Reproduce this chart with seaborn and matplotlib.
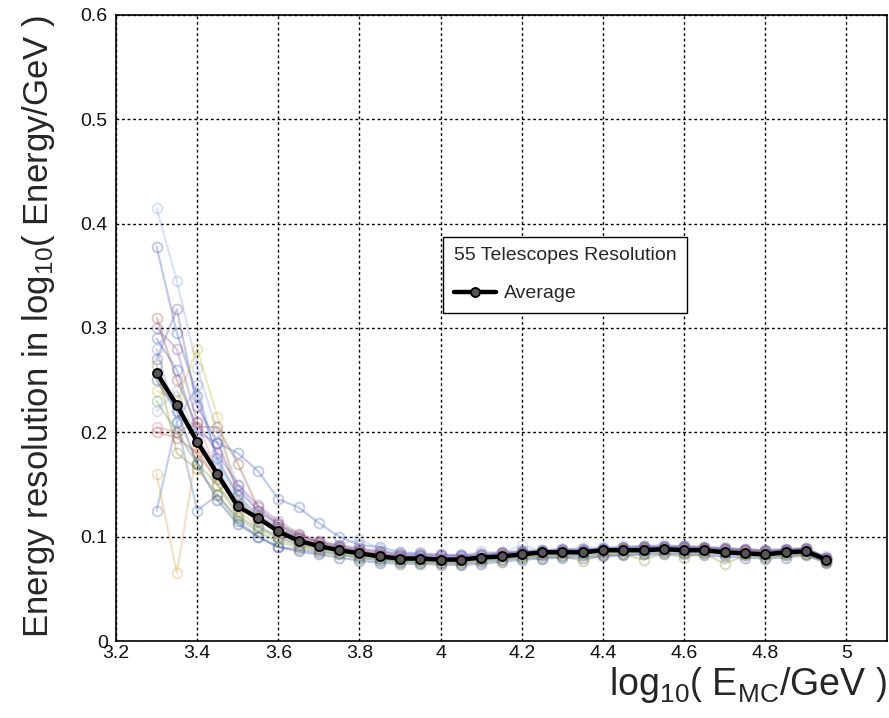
import matplotlib
matplotlib.use("Agg")
import matplotlib.pyplot as plt
import numpy as np
import pandas as pd
import seaborn as sns
from matplotlib.ticker import MultipleLocator, FuncFormatter

# ---------------- data ----------------
log_e = [3.30, 3.35, 3.40, 3.45, 3.50, 3.55, 3.60, 3.65, 3.70, 3.75, 3.80, 3.85,
         3.90, 3.95, 4.00, 4.05, 4.10, 4.15, 4.20, 4.25, 4.30, 4.35, 4.40, 4.45,
         4.50, 4.55, 4.60, 4.65, 4.70, 4.75, 4.80, 4.85, 4.90, 4.95]

average = [0.257, 0.226, 0.191, 0.160, 0.129, 0.118, 0.105, 0.096, 0.091, 0.087, 0.084, 0.081,
           0.079, 0.079, 0.078, 0.078, 0.080, 0.081, 0.083, 0.085, 0.085, 0.085, 0.087, 0.087,
           0.087, 0.088, 0.087, 0.087, 0.085, 0.084, 0.083, 0.085, 0.086, 0.078]

tel01 = [0.378, 0.295, 0.235, 0.175, 0.140, 0.120, 0.108, 0.098, 0.092, 0.088, 0.085, 0.083,
         0.080, 0.081, 0.079, 0.080, 0.080, 0.082, 0.084, 0.085, 0.085, 0.086, 0.087, 0.088,
         0.089, 0.090, 0.089, 0.088, 0.087, 0.086, 0.085, 0.086, 0.087, 0.079]
tel02 = [0.415, 0.345, 0.262, 0.200, 0.150, 0.125, 0.110, 0.100, 0.094, 0.090, 0.088, 0.086,
         0.084, 0.083, 0.082, 0.083, 0.084, 0.085, 0.086, 0.087, 0.088, 0.089, 0.090, 0.090,
         0.091, 0.092, 0.091, 0.090, 0.089, 0.088, 0.087, 0.088, 0.089, 0.081]
tel03 = [0.125, 0.210, 0.125, 0.140, 0.115, 0.100, 0.090, 0.088, 0.085, 0.083, 0.080, 0.077,
         0.076, 0.075, 0.075, 0.074, 0.076, 0.078, 0.080, 0.080, 0.081, 0.082, 0.082, 0.083,
         0.084, 0.085, 0.084, 0.084, 0.083, 0.082, 0.081, 0.082, 0.083, 0.076]
tel04 = [0.160, 0.065, 0.185, 0.150, 0.125, 0.110, 0.100, 0.092, 0.088, 0.085, 0.082, 0.080,
         0.078, 0.077, 0.077, 0.076, 0.078, 0.080, 0.081, 0.082, 0.083, 0.084, 0.084, 0.085,
         0.086, 0.086, 0.085, 0.085, 0.084, 0.083, 0.082, 0.083, 0.084, 0.077]
tel05 = [0.270, 0.318, 0.225, 0.190, 0.145, 0.125, 0.112, 0.100, 0.095, 0.091, 0.087, 0.085,
         0.082, 0.082, 0.081, 0.081, 0.082, 0.084, 0.085, 0.086, 0.087, 0.087, 0.088, 0.089,
         0.090, 0.090, 0.090, 0.089, 0.088, 0.087, 0.086, 0.087, 0.088, 0.080]
tel06 = [0.240, 0.230, 0.280, 0.215, 0.135, 0.118, 0.105, 0.097, 0.091, 0.087, 0.084, 0.081,
         0.079, 0.078, 0.078, 0.078, 0.080, 0.082, 0.083, 0.084, 0.085, 0.085, 0.086, 0.088,
         0.088, 0.089, 0.088, 0.089, 0.087, 0.086, 0.085, 0.086, 0.087, 0.079]
tel07 = [0.200, 0.195, 0.180, 0.155, 0.130, 0.115, 0.108, 0.099, 0.093, 0.089, 0.086, 0.083,
         0.081, 0.080, 0.080, 0.079, 0.081, 0.083, 0.085, 0.085, 0.086, 0.086, 0.087, 0.088,
         0.089, 0.089, 0.090, 0.089, 0.088, 0.087, 0.086, 0.087, 0.088, 0.080]
tel08 = [0.310, 0.250, 0.205, 0.205, 0.170, 0.128, 0.112, 0.102, 0.095, 0.090, 0.086, 0.083,
         0.081, 0.080, 0.079, 0.079, 0.080, 0.082, 0.084, 0.084, 0.085, 0.085, 0.086, 0.087,
         0.088, 0.088, 0.089, 0.088, 0.087, 0.086, 0.085, 0.086, 0.086, 0.078]
tel09 = [0.230, 0.200, 0.170, 0.150, 0.120, 0.108, 0.098, 0.092, 0.088, 0.084, 0.081, 0.079,
         0.077, 0.077, 0.076, 0.076, 0.078, 0.079, 0.081, 0.082, 0.082, 0.083, 0.083, 0.085,
         0.085, 0.086, 0.086, 0.085, 0.084, 0.083, 0.082, 0.083, 0.084, 0.077]
tel10 = [0.290, 0.260, 0.200, 0.190, 0.180, 0.163, 0.136, 0.128, 0.113, 0.100, 0.092, 0.090,
         0.085, 0.084, 0.083, 0.082, 0.083, 0.085, 0.086, 0.087, 0.088, 0.088, 0.089, 0.090,
         0.091, 0.091, 0.091, 0.090, 0.089, 0.088, 0.087, 0.088, 0.089, 0.080]
tel11 = [0.250, 0.220, 0.170, 0.135, 0.112, 0.100, 0.090, 0.086, 0.083, 0.080, 0.077, 0.075,
         0.074, 0.074, 0.073, 0.073, 0.074, 0.076, 0.078, 0.079, 0.080, 0.080, 0.081, 0.082,
         0.083, 0.083, 0.083, 0.082, 0.081, 0.080, 0.079, 0.080, 0.082, 0.075]
tel12 = [0.220, 0.240, 0.195, 0.165, 0.135, 0.122, 0.108, 0.098, 0.090, 0.092, 0.098, 0.088,
         0.082, 0.085, 0.080, 0.081, 0.086, 0.084, 0.092, 0.086, 0.085, 0.088, 0.084, 0.091,
         0.086, 0.089, 0.092, 0.086, 0.090, 0.084, 0.086, 0.084, 0.088, 0.080]
tel13 = [0.300, 0.280, 0.210, 0.180, 0.150, 0.130, 0.115, 0.103, 0.096, 0.092, 0.089, 0.086,
         0.083, 0.082, 0.082, 0.081, 0.082, 0.084, 0.085, 0.086, 0.087, 0.087, 0.088, 0.089,
         0.090, 0.090, 0.090, 0.089, 0.088, 0.087, 0.086, 0.087, 0.088, 0.080]
tel14 = [0.265, 0.180, 0.165, 0.140, 0.118, 0.105, 0.095, 0.090, 0.086, 0.083, 0.079, 0.078,
         0.076, 0.076, 0.075, 0.075, 0.077, 0.078, 0.080, 0.081, 0.081, 0.077, 0.082, 0.083,
         0.078, 0.084, 0.080, 0.084, 0.074, 0.082, 0.080, 0.082, 0.083, 0.076]
tel15 = [0.280, 0.210, 0.245, 0.170, 0.140, 0.110, 0.100, 0.094, 0.089, 0.086, 0.083, 0.080,
         0.079, 0.079, 0.078, 0.078, 0.079, 0.081, 0.083, 0.083, 0.084, 0.084, 0.085, 0.086,
         0.087, 0.087, 0.088, 0.087, 0.086, 0.085, 0.084, 0.085, 0.086, 0.078]
tel16 = [0.205, 0.200, 0.210, 0.160, 0.128, 0.118, 0.103, 0.095, 0.090, 0.087, 0.084, 0.082,
         0.080, 0.079, 0.079, 0.078, 0.080, 0.082, 0.083, 0.084, 0.084, 0.085, 0.086, 0.087,
         0.087, 0.088, 0.088, 0.087, 0.086, 0.085, 0.084, 0.085, 0.086, 0.078]

telescopes = [tel01, tel02, tel03, tel04, tel05, tel06, tel07, tel08,
              tel09, tel10, tel11, tel12, tel13, tel14, tel15, tel16]
tel_colors = ["#3b5bb5", "#8fa6dd", "#4a6fc0", "#d9a24a", "#6a4fa8", "#c9b93a",
              "#c0504d", "#a0524a", "#5aa05a", "#3f63c4", "#263f8f", "#9aaed0",
              "#8a5aa8", "#8c8c3a", "#6f8fd8", "#d27a8a"]

legend_title = "55 Telescopes Resolution"
avg_label = "Average"

# ---------------- plot ----------------
df_avg = pd.DataFrame({"x": log_e, "y": average})

sns.set_theme(style="white")
plt.rcParams["font.family"] = ["Liberation Sans", "DejaVu Sans"]
plt.rcParams["mathtext.fontset"] = "custom"
plt.rcParams["mathtext.rm"] = "Liberation Sans"
plt.rcParams["mathtext.it"] = "Liberation Sans"
plt.rcParams["mathtext.bf"] = "Liberation Sans:bold"

fig = plt.figure(figsize=(8.89, 7.18), dpi=100)
ax = fig.add_axes([116 / 889, 1 - 641 / 718, 771 / 889, 626 / 718])

for vals, col in zip(telescopes, tel_colors):
    d = pd.DataFrame({"x": log_e, "y": vals})
    sns.lineplot(data=d, x="x", y="y", color=col, marker="o", markersize=7,
                 markerfacecolor="none", markeredgecolor=col, markeredgewidth=1.4,
                 linewidth=1.6, alpha=0.32, legend=False, ax=ax, sort=False)

sns.lineplot(data=df_avg, x="x", y="y", color="black", linewidth=3.2,
             marker="o", markersize=6.5, markerfacecolor="#555555",
             markeredgecolor="black", markeredgewidth=1.3,
             label=avg_label, ax=ax, sort=False, zorder=5)

ax.set_xlim(3.2, 5.1)
ax.set_ylim(0, 0.6)
ax.xaxis.set_major_locator(MultipleLocator(0.2))
ax.xaxis.set_minor_locator(MultipleLocator(0.05))
ax.yaxis.set_major_locator(MultipleLocator(0.1))
ax.yaxis.set_minor_locator(MultipleLocator(0.02))
ax.xaxis.set_major_formatter(FuncFormatter(lambda v, p: f"{v:g}"))
ax.yaxis.set_major_formatter(FuncFormatter(lambda v, p: f"{v:g}"))

ax.tick_params(axis="both", which="major", direction="in", length=12, width=1,
               labelsize=14, color="black", labelcolor="#111111")
ax.tick_params(axis="both", which="minor", direction="in", length=6, width=1, color="black")
ax.tick_params(axis="x", which="major", pad=3)
ax.tick_params(axis="y", which="major", pad=6)
ax.grid(True, which="major", color="black", linestyle=(0, (2, 2)), linewidth=1)
for s in ax.spines.values():
    s.set_color("black")
    s.set_linewidth(1.2)

ax.set_xlabel(r"$\mathrm{log}_{10}\left(\mathrm{\ E}_{\mathrm{MC}}\mathrm{/GeV\ }\right)$",
              fontsize=27, loc="right", labelpad=2)
ax.set_ylabel(r"$\mathrm{Energy\ resolution\ in\ log}_{10}\left(\mathrm{\ Energy/GeV\ }\right)$",
              fontsize=25, loc="top", labelpad=17)

leg = ax.legend(title=legend_title, loc="upper left", bbox_to_anchor=(0.424, 0.646),
                borderaxespad=0, frameon=True, fancybox=False, edgecolor="black",
                framealpha=1, fontsize=14, title_fontsize=14, alignment="left",
                handlelength=2.2, borderpad=0.55, handletextpad=0.4, labelspacing=1.05)
leg.get_frame().set_linewidth(1.0)

fig.savefig("out.png", dpi=100)
